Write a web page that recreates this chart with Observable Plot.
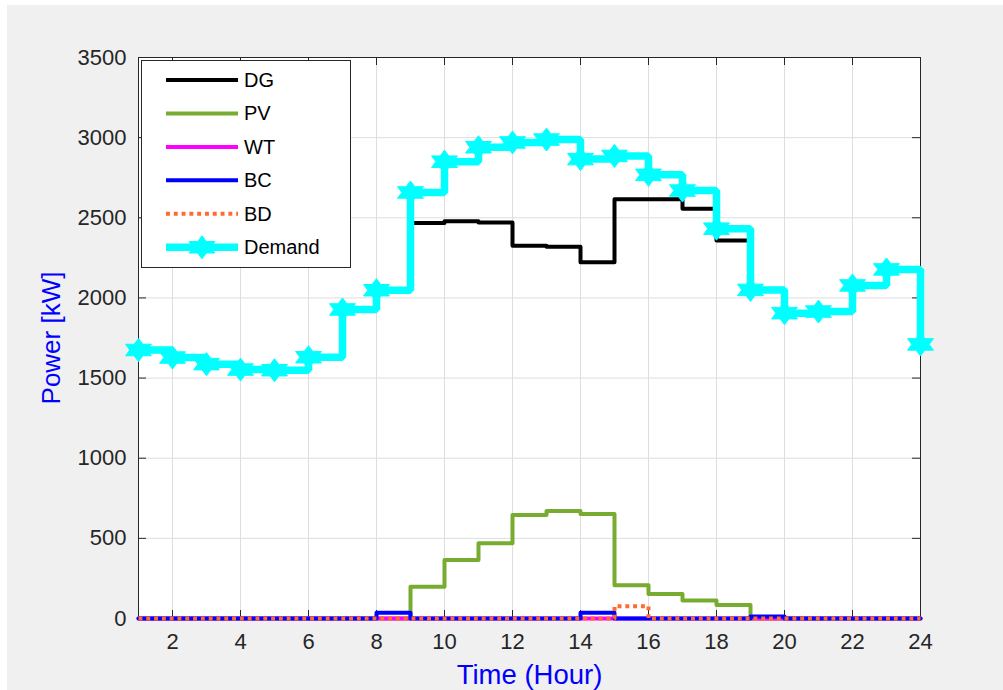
<!DOCTYPE html>
<html><head><meta charset="utf-8">
<script src="https://cdn.jsdelivr.net/npm/d3@7"></script>
<script src="https://cdn.jsdelivr.net/npm/@observablehq/plot@0.6"></script>
<style>
html,body{margin:0;padding:0;background:#fff;}
#bg{position:absolute;left:7px;top:5px;width:996px;height:685px;background:#f0f0f0;}
#chart{position:absolute;left:0;top:0;}
#legend{position:absolute;left:141px;top:60px;}
</style></head><body>
<div id="bg"></div><div id="chart"></div>
<script>
// ---- data ----
const hours  = [1,2,3,4,5,6,7,8,9,10,11,12,13,14,15,16,17,18,19,20,21,22,23,24];
const demand = [1675,1628,1587,1553,1549,1630,1928,2048,2658,2850,2940,2970,2988,2866,2886,2768,2670,2432,2050,1905,1915,2078,2178,1710];
const dg     = [1675,1628,1587,1553,1549,1630,1928,2048,2467,2478,2470,2325,2320,2222,2615,2615,2557,2358,2050,1905,1915,2078,2178,1710];
const pv     = [0,0,0,0,0,0,0,0,198,365,470,645,670,652,208,153,112,85,0,0,0,0,0,0];
const wt     = [0,0,0,0,0,0,0,0,0,0,0,0,0,0,0,0,0,0,0,0,0,0,0,0];
const bc     = [0,0,0,0,0,0,0,36,0,0,0,0,0,36,0,0,0,0,12,0,0,0,0,0];
const bd     = [0,0,0,0,0,0,0,0,0,0,0,0,0,0,77,0,0,0,0,0,0,0,0,0];
const xTicks = [2,4,6,8,10,12,14,16,18,20,22,24];
const yTicks = [0,500,1000,1500,2000,2500,3000,3500];
const seriesNames  = ["DG","PV","WT","BC","BD","Demand"];
const seriesColors = ["#000000","#77ac30","#ff00ff","#0000ff","#ff6a2e","#00ffff"];

// ---- layout ----
const W = 1003, H = 690;
const mL = 138, mR = 83, mT = 57, mB = 72;
const frameW = W - mL - mR, frameH = H - mT - mB;
const tickLen = 8;
const font = "'Liberation Sans', Arial, Helvetica, sans-serif";

// six-pointed star (MATLAB hexagram-like)
const hexagram = {
  draw(context, size) {
    const R = Math.sqrt(size / Math.PI);
    const r = R / Math.sqrt(3);
    const sx = 1.3;
    for (let i = 0; i < 12; i++) {
      const a = -Math.PI / 2 + i * Math.PI / 6;
      const rad = i % 2 === 0 ? R : r;
      const px = Math.cos(a) * rad * sx, py = Math.sin(a) * rad;
      if (i === 0) context.moveTo(px, py); else context.lineTo(px, py);
    }
    context.closePath();
  }
};

const lineOf = (vals, opts) => Plot.line(hours, {x: d => d, y: (d, i) => vals[i], curve: "step-after", ...opts});

const chart = Plot.plot({
  width: W, height: H,
  marginLeft: mL, marginRight: mR, marginTop: mT, marginBottom: mB,
  style: {background: "transparent", overflow: "visible", fontFamily: font},
  x: {domain: [1, 24]},
  y: {domain: [0, 3500]},
  marks: [
    // axes layer (below data, as in MATLAB's default Layer = 'bottom')
    Plot.frame({fill: "white", stroke: null}),
    Plot.gridX(xTicks, {stroke: "#dedede", strokeOpacity: 1}),
    Plot.gridY(yTicks, {stroke: "#dedede", strokeOpacity: 1}),
    Plot.frame({stroke: "#262626", strokeWidth: 1}),
    Plot.tickX(xTicks, {x: d => d, insetTop: frameH - tickLen, stroke: "#262626"}),
    Plot.tickX(xTicks, {x: d => d, insetBottom: frameH - tickLen, stroke: "#262626"}),
    Plot.tickY(yTicks, {y: d => d, insetRight: frameW - tickLen, stroke: "#262626"}),
    Plot.tickY(yTicks, {y: d => d, insetLeft: frameW - tickLen, stroke: "#262626"}),
    Plot.axisX(xTicks, {tickSize: 0, tickPadding: 15, fontSize: 22, color: "#262626", label: null}),
    Plot.axisY(yTicks, {tickSize: 0, tickPadding: 12, fontSize: 22, color: "#262626", label: null, tickFormat: d3.format("d")}),
    // data
    lineOf(dg, {stroke: seriesColors[0], strokeWidth: 4}),
    lineOf(pv, {stroke: seriesColors[1], strokeWidth: 4}),
    lineOf(wt, {stroke: seriesColors[2], strokeWidth: 4}),
    lineOf(bc, {stroke: seriesColors[3], strokeWidth: 4}),
    lineOf(bd, {stroke: seriesColors[4], strokeWidth: 4, strokeDasharray: "3.9,3.9", strokeLinecap: "butt"}),
    lineOf(demand, {stroke: seriesColors[5], strokeWidth: 7.5, strokeLinejoin: "miter"}),
    Plot.dot(hours, {x: d => d, y: (d, i) => demand[i], r: 11.5, symbol: hexagram, fill: seriesColors[5], stroke: seriesColors[5], strokeWidth: 1}),
    // labels
    Plot.text(["Time (Hour)"], {text: d => d, frameAnchor: "bottom", lineAnchor: "middle", textAnchor: "middle", dy: 57, fontSize: 27.5, fill: "#0000ff"}),
    Plot.text(["Power [kW]"], {text: d => d, frameAnchor: "left", lineAnchor: "middle", textAnchor: "middle", dx: -87, rotate: -90, fontSize: 26, fill: "#0000ff"})
  ]
});
document.getElementById("chart").appendChild(chart);

// ---- legend ----
const lg = d3.select("body").append("svg").attr("id", "legend")
  .attr("width", 212).attr("height", 211)
  .style("font-family", font);
lg.append("rect").attr("x", 0.5).attr("y", 0.5).attr("width", 209).attr("height", 207)
  .attr("fill", "white").attr("stroke", "#262626").attr("stroke-width", 1);
const rowY = i => 20 + i * 33.45;
seriesNames.forEach((name, i) => {
  const g = lg.append("g").attr("transform", `translate(0,${rowY(i)})`);
  const ln = g.append("line").attr("x1", 25).attr("x2", 97).attr("y1", 0).attr("y2", 0)
    .attr("stroke", seriesColors[i]).attr("stroke-width", name === "Demand" ? 7.5 : 4);
  if (name === "BD") ln.attr("stroke-dasharray", "3.9,3.9");
  if (name === "Demand") {
    g.append("path").attr("transform", "translate(61,0)")
      .attr("d", d3.symbol(hexagram, Math.PI * 132)())
      .attr("fill", seriesColors[i]).attr("stroke", seriesColors[i]).attr("stroke-width", 1);
  }
  g.append("text").attr("x", 103).attr("y", 0).attr("dy", "0.35em")
    .attr("font-size", 20).attr("fill", "#000").text(name);
});
</script>
</body></html>
